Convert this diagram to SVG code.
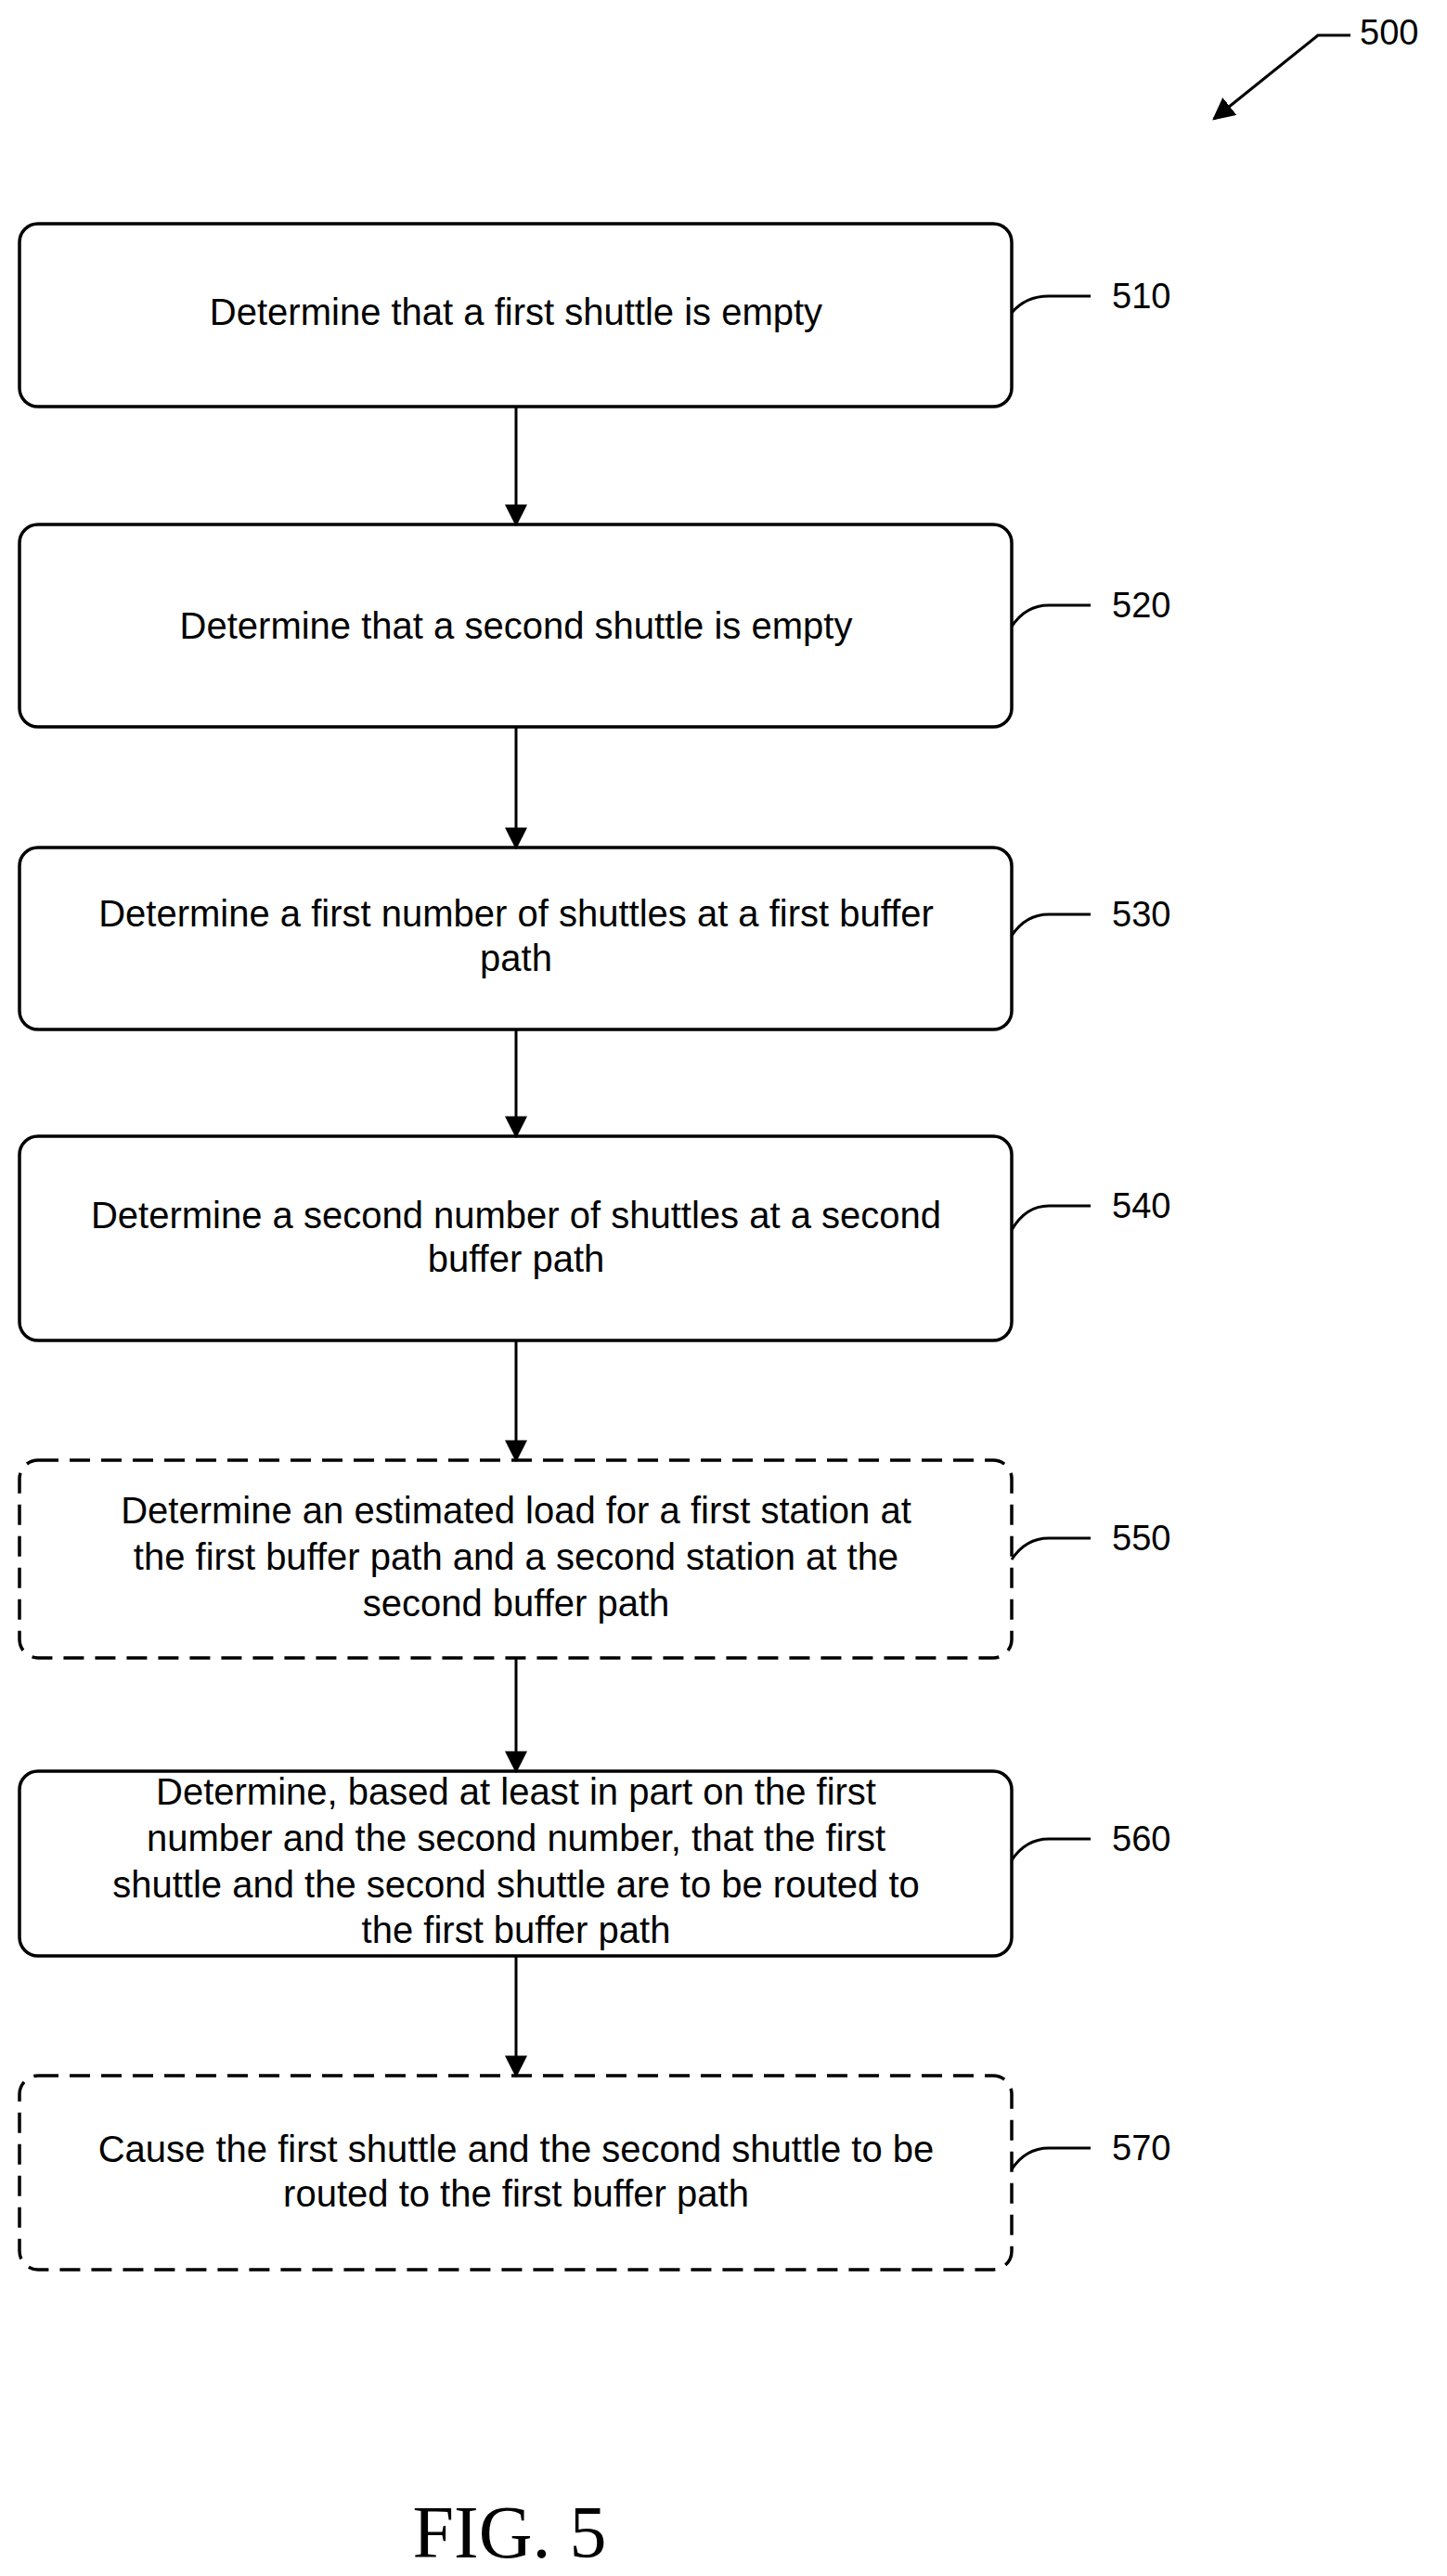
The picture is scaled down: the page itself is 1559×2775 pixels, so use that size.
<svg xmlns="http://www.w3.org/2000/svg" width="1559" height="2775" viewBox="0 0 1559 2775">
<style>
.b{fill:#fff;stroke:#000;stroke-width:3.5}
.d{stroke-dasharray:22 12}
.t{font-family:"Liberation Sans",Arial,sans-serif;font-size:40px;text-anchor:middle;fill:#000}
.l{font-family:"Liberation Sans",Arial,sans-serif;font-size:38px;fill:#000}
.c{fill:none;stroke:#000;stroke-width:3}
</style>
<defs>
<marker id="ah" viewBox="0 0 10 10" refX="9" refY="5" markerWidth="24" markerHeight="24" markerUnits="userSpaceOnUse" orient="auto"><path d="M0,0 L10,5 L0,10z"/></marker></defs>
<text class="l" x="1465" y="48">500</text>
<path class="c" d="M1455,38 L1420,38 L1308,128" marker-end="url(#ah)"/>
<g id="n510"><rect class="b" x="21" y="241" width="1069" height="197" rx="20"/><text class="t" x="556" y="350">Determine that a first shuttle is empty</text></g>
<g id="n520"><rect class="b" x="21" y="565" width="1069" height="218" rx="20"/><text class="t" x="556" y="688">Determine that a second shuttle is empty</text></g>
<g id="n530"><rect class="b" x="21" y="913" width="1069" height="196" rx="20"/><text class="t" x="556" y="998">Determine a first number of shuttles at a first buffer</text><text class="t" x="556" y="1046">path</text></g>
<g id="n540"><rect class="b" x="21" y="1224" width="1069" height="220" rx="20"/><text class="t" x="556" y="1323">Determine a second number of shuttles at a second</text><text class="t" x="556" y="1370">buffer path</text></g>
<g id="n550"><rect class="b d" x="21" y="1573" width="1069" height="213" rx="20"/><text class="t" x="556" y="1641">Determine an estimated load for a first station at</text><text class="t" x="556" y="1691">the first buffer path and a second station at the</text><text class="t" x="556" y="1741">second buffer path</text></g>
<g id="n560"><rect class="b" x="21" y="1908" width="1069" height="199" rx="20"/><text class="t" x="556" y="1944">Determine, based at least in part on the first</text><text class="t" x="556" y="1994">number and the second number, that the first</text><text class="t" x="556" y="2044">shuttle and the second shuttle are to be routed to</text><text class="t" x="556" y="2093">the first buffer path</text></g>
<g id="n570"><rect class="b d" x="21" y="2236" width="1069" height="209" rx="20"/><text class="t" x="556" y="2329">Cause the first shuttle and the second shuttle to be</text><text class="t" x="556" y="2377">routed to the first buffer path</text></g>
<g id="labels">
<text class="l" x="1198" y="332">510</text><text class="l" x="1198" y="665">520</text><text class="l" x="1198" y="998">530</text><text class="l" x="1198" y="1312">540</text><text class="l" x="1198" y="1670">550</text><text class="l" x="1198" y="1994">560</text><text class="l" x="1198" y="2327">570</text>
</g>
<g id="connectors">
<path class="c" d="M1090,337 Q1105,319 1130,319 H1175"/>
<path class="c" d="M1090,675 Q1105,652 1130,652 H1175"/>
<path class="c" d="M1090,1008 Q1105,985 1130,985 H1175"/>
<path class="c" d="M1090,1325 Q1105,1299 1130,1299 H1175"/>
<path class="c" d="M1090,1680 Q1105,1657 1130,1657 H1175"/>
<path class="c" d="M1090,2004 Q1105,1981 1130,1981 H1175"/>
<path class="c" d="M1090,2337 Q1105,2314 1130,2314 H1175"/>
<path class="c" d="M556,438 V565" marker-end="url(#ah)"/>
<path class="c" d="M556,783 V913" marker-end="url(#ah)"/>
<path class="c" d="M556,1109 V1224" marker-end="url(#ah)"/>
<path class="c" d="M556,1444 V1573" marker-end="url(#ah)"/>
<path class="c" d="M556,1786 V1908" marker-end="url(#ah)"/>
<path class="c" d="M556,2107 V2236" marker-end="url(#ah)"/>
</g>
<text x="549" y="2755" style="font-family:'Liberation Serif',serif;font-size:80px;text-anchor:middle">FIG. 5</text>
</svg>
